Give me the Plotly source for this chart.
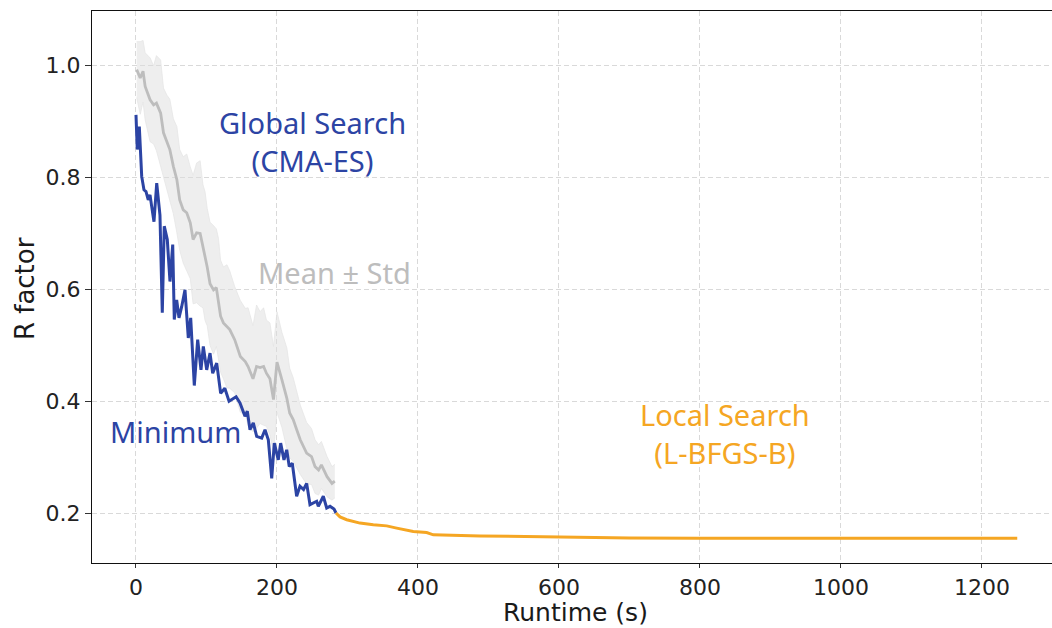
import plotly.graph_objects as go

# ---- Global search (CMA-ES): minimum R factor ----
min_time = [0, 1.8, 4.7, 8.1, 11.3, 14.2, 17.4, 19.9, 22.3, 25.5, 29.4, 34, 37.3, 40.1, 44.4,
            48.2, 52.1, 54.3, 57.7, 61, 64.8, 69.5, 74.2, 77.6, 82.7, 87.5, 92.2, 95.5, 100.3,
            105, 108.8, 114.5, 120.1, 126, 132, 142, 147.5, 154.6, 157.9, 161.7, 166.4, 171.2,
            178.3, 183, 187.7, 192.5, 196.2, 201.8, 205.2, 209.9, 213.8, 217.4, 221.7, 227.9,
            232.6, 237.7, 242.1, 246.8, 256.3, 258.6, 265.7, 270.5, 275.2, 280.9, 283.7]
min_r = [0.912, 0.850, 0.891, 0.802, 0.778, 0.775, 0.760, 0.769, 0.748, 0.721, 0.790, 0.733, 0.558,
         0.713, 0.689, 0.614, 0.680, 0.546, 0.581, 0.549, 0.569, 0.599, 0.513, 0.549, 0.428, 0.510,
         0.456, 0.498, 0.456, 0.486, 0.450, 0.468, 0.414, 0.423, 0.400, 0.408, 0.397, 0.373, 0.382,
         0.349, 0.361, 0.337, 0.334, 0.349, 0.331, 0.262, 0.325, 0.295, 0.325, 0.295, 0.313, 0.283,
         0.289, 0.230, 0.248, 0.242, 0.253, 0.215, 0.221, 0.212, 0.230, 0.209, 0.212, 0.207, 0.200]

# ---- Global search: population mean and std ----
mean_time = [1, 6, 10, 13, 20, 25, 29, 35, 39, 44, 48, 53, 58, 62, 67, 72, 77, 81, 86, 91,
             95, 98, 101, 105, 110, 114, 117, 120, 124, 129, 133, 140, 148, 155, 159, 166, 171,
             176, 181, 185, 190, 195, 200, 207, 214, 218, 223, 228, 233, 242, 249, 254, 259, 263,
             271, 278, 282]
mean_r = [0.993, 0.978, 0.990, 0.963, 0.939, 0.930, 0.933, 0.915, 0.880, 0.862, 0.850, 0.820,
          0.796, 0.760, 0.742, 0.737, 0.719, 0.689, 0.701, 0.700, 0.677, 0.659, 0.640, 0.610,
          0.599, 0.603, 0.581, 0.552, 0.540, 0.534, 0.528, 0.510, 0.480, 0.471, 0.462, 0.440,
          0.462, 0.460, 0.462, 0.450, 0.440, 0.403, 0.470, 0.438, 0.405, 0.379, 0.367, 0.349,
          0.331, 0.307, 0.301, 0.283, 0.277, 0.286, 0.265, 0.253, 0.257]
std_r = [0.050, 0.065, 0.055, 0.060, 0.075, 0.070, 0.085, 0.095, 0.080, 0.085, 0.090, 0.085,
         0.095, 0.090, 0.095, 0.105, 0.100, 0.115, 0.125, 0.130, 0.110, 0.115, 0.105, 0.110,
         0.115, 0.105, 0.110, 0.100, 0.100, 0.110, 0.105, 0.095, 0.100, 0.095, 0.105, 0.095,
         0.110, 0.100, 0.105, 0.095, 0.100, 0.095, 0.090, 0.085, 0.090, 0.080, 0.075, 0.068,
         0.062, 0.055, 0.050, 0.048, 0.045, 0.042, 0.036, 0.030, 0.030]

# ---- Local search (L-BFGS-B) ----
local_time = [283.7, 289.4, 298.9, 317.7, 336.6, 355.6, 369.8, 393.3, 412.3, 421.7, 488,
              550, 629.8, 700, 800, 900, 1000, 1100, 1250]
local_r = [0.200, 0.193, 0.188, 0.182, 0.179, 0.177, 0.173, 0.167, 0.165, 0.161, 0.159,
           0.158, 0.156, 0.1555, 0.155, 0.155, 0.155, 0.155, 0.155]

x_ticks = [0, 200, 400, 600, 800, 1000, 1200]
y_ticks = [0.2, 0.4, 0.6, 0.8, 1.0]

BLUE = "#2C44A4"
GREY = "#BDBDBD"
ORANGE = "#F5A623"

upper = [m + s for m, s in zip(mean_r, std_r)]
lower = [m - s for m, s in zip(mean_r, std_r)]

fig = go.Figure()
fig.add_trace(go.Scatter(x=mean_time, y=lower, mode="lines",
                         line=dict(color="rgba(228,228,228,0.9)", width=0.8),
                         hoverinfo="skip", showlegend=False))
fig.add_trace(go.Scatter(x=mean_time, y=upper, mode="lines", fill="tonexty",
                         fillcolor="rgba(222,222,222,0.5)",
                         line=dict(color="rgba(228,228,228,0.9)", width=0.8),
                         hoverinfo="skip", showlegend=False))
fig.add_trace(go.Scatter(x=mean_time, y=mean_r, mode="lines",
                         line=dict(color=GREY, width=2.8), showlegend=False))
fig.add_trace(go.Scatter(x=min_time, y=min_r, mode="lines",
                         line=dict(color=BLUE, width=3), showlegend=False))
fig.add_trace(go.Scatter(x=local_time, y=local_r, mode="lines",
                         line=dict(color=ORANGE, width=3), showlegend=False))

ann_font = "Noto Sans, sans-serif"
annotations = [
    dict(x=250, y=0.864, xref="x", yref="y", text="Global Search<br>(CMA-ES)",
         font=dict(family=ann_font, size=29, color=BLUE)),
    dict(x=281, y=0.631, xref="x", yref="y", text="Mean ± Std",
         font=dict(family=ann_font, size=29, color=GREY)),
    dict(x=56, y=0.345, xref="x", yref="y", text="Minimum",
         font=dict(family=ann_font, size=29, color=BLUE)),
    dict(x=835, y=0.343, xref="x", yref="y", text="Local Search<br>(L-BFGS-B)",
         font=dict(family=ann_font, size=29, color=ORANGE)),
    dict(x=-0.0698, y=0.498, xref="paper", yref="paper", text="R factor", textangle=-90,
         font=dict(family="DejaVu Sans", size=26, color="#1a1a1a")),
    dict(x=0.504, y=-0.0905, xref="paper", yref="paper", text="Runtime (s)",
         font=dict(family="DejaVu Sans", size=25, color="#1a1a1a")),
]
for a in annotations:
    a.setdefault("showarrow", False)
    a.setdefault("xanchor", "center")
    a.setdefault("yanchor", "middle")

fig.update_layout(
    width=1052, height=628,
    margin=dict(l=92, r=0, t=11, b=65),
    paper_bgcolor="white", plot_bgcolor="white",
    annotations=annotations,
    font=dict(family="DejaVu Sans", size=22, color="#222222"),
)
fig.update_xaxes(range=[-62.4, 1299.3], tickvals=x_ticks,
                 showline=True, linecolor="#111111", linewidth=1.3, mirror=True,
                 ticks="outside", ticklen=4, tickcolor="#333333",
                 showgrid=True, gridcolor="#d9d9d9", griddash="5px,3px", gridwidth=1,
                 zeroline=False)
fig.update_yaxes(range=[0.1106, 1.0978], tickvals=y_ticks, tickformat=".1f",
                 showline=True, linecolor="#111111", linewidth=1.3,
                 ticks="outside", ticklen=6, tickcolor="#333333",
                 showgrid=True, gridcolor="#d9d9d9", griddash="5px,3px", gridwidth=1,
                 zeroline=False)

fig.write_html("out.html")
